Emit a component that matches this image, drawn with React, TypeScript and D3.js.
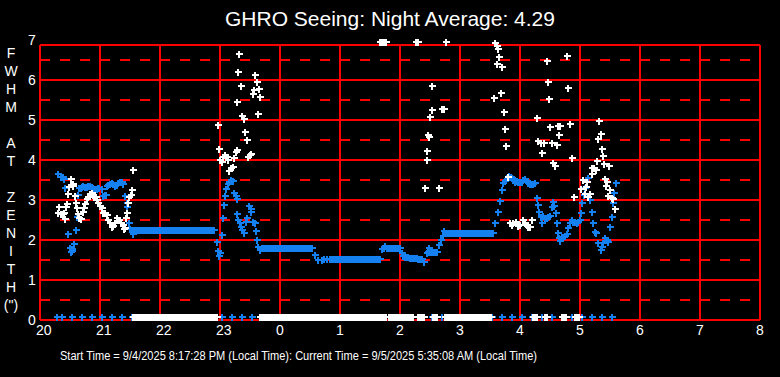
import React, { useEffect } from "react";
import * as d3 from "d3";

// ---- Text ----
const titleText = "GHRO Seeing: Night Average: 4.29";
const footerText =
  "Start Time = 9/4/2025 8:17:28 PM (Local Time): Current Time = 9/5/2025 5:35:08 AM (Local Time)";
const yAxisTitle = ["F", "W", "H", "M", "", "A", "T", "", "Z", "E", "N", "I", "T", "H", "(\")"];

// ---- Axes (x in minutes after 20:00 local time) ----
const hourLabels = ["20", "21", "22", "23", "0", "1", "2", "3", "4", "5", "6", "7", "8"];
const hourTickMinutes = [0, 60, 120, 180, 240, 300, 360, 420, 480, 540, 600, 660, 720];
const yTickValues = [0, 1, 2, 3, 4, 5, 6, 7];
const yHalfValues = [0.5, 1.5, 2.5, 3.5, 4.5, 5.5, 6.5];

// ---- Blue series: [minutes after 20:00, FWHM arcsec] ----
const blueSeries: [number, number][] = [
  [18.3, 3.64], [20.7, 3.58], [22.7, 3.57], [24, 3.52], [25, 3.29], [26.7, 2.9], [28.3, 2.14],
  [30, 1.79], [30.7, 1.69], [31.7, 1.73], [32.3, 1.77], [34.3, 1.9], [35.7, 2.24], [37.3, 2.58],
  [38.3, 3.13], [39.3, 3.31], [40.5, 3.3], [41.7, 3.33], [43.3, 3.35], [45, 3.32], [46.7, 3.33],
  [48.3, 3.36], [50, 3.35], [51.7, 3.33], [53.3, 3.29], [55, 3.26], [56.7, 3.27], [58, 3.3],
  [59.3, 3.3], [61.7, 3.28], [63.3, 3.1], [64.5, 3.12], [65.7, 3.13], [66.7, 3.35], [68.3, 3.38],
  [70, 3.4], [71.7, 3.42], [73.3, 3.4], [75, 3.36], [76.7, 3.38], [78.3, 3.42], [80, 3.46],
  [81.7, 3.44], [83.3, 3.4], [85, 3.1], [86.7, 2.92], [87.3, 2.83], [88.7, 2.42], [90, 2.28],
  [92, 2.24], [93.3, 2.14], [94, 2.24], [96, 2.24], [98, 2.24], [100, 2.24], [102, 2.24],
  [104, 2.24], [106, 2.24], [108, 2.24], [110, 2.24], [112, 2.24], [114, 2.24], [116, 2.24],
  [118, 2.24], [120, 2.24], [122, 2.24], [124, 2.24], [126, 2.24], [128, 2.24], [130, 2.24],
  [132, 2.24], [134, 2.24], [136, 2.24], [138, 2.24], [140, 2.24], [142, 2.24], [144, 2.24],
  [146, 2.24], [148, 2.24], [150, 2.24], [152, 2.24], [154, 2.24], [156, 2.24], [158, 2.24],
  [160, 2.24], [162, 2.24], [164, 2.24], [166, 2.24], [168, 2.24], [170, 2.24], [172, 2.24],
  [174, 2.24],
  [176.7, 1.94], [178.3, 1.73], [179, 1.61], [180, 1.67], [181.7, 2.12], [182.7, 2.54],
  [184.3, 2.87], [185.3, 3.1], [186.3, 3.27], [187.7, 3.39], [189.3, 3.46], [191, 3.5],
  [192.7, 3.48], [194.3, 3.17], [195.7, 3.1], [196.7, 3.03], [197.3, 2.65], [198.3, 2.5],
  [200, 2.42], [201, 2.33], [202.3, 2.25], [204, 2.18], [205.7, 2.45], [207.3, 2.56], [209, 2.85],
  [210.7, 2.77], [211.3, 2.71], [213.3, 2.46], [215, 2.42], [216, 2.22], [216.7, 2.0],
  [218.3, 1.83], [220, 1.75],
  [222, 1.79], [224, 1.79], [226, 1.79], [228, 1.79], [230, 1.79], [232, 1.79], [234, 1.79],
  [236, 1.79], [238, 1.79], [240, 1.79], [242, 1.79], [244, 1.79], [246, 1.79], [248, 1.79],
  [250, 1.79], [252, 1.79], [254, 1.79], [256, 1.79], [258, 1.79], [260, 1.79], [262, 1.79],
  [264, 1.79], [266, 1.79], [268, 1.79], [270, 1.79], [272, 1.79],
  [275, 1.62], [278.3, 1.5], [281.7, 1.5], [284, 1.52], [286.7, 1.52],
  [290, 1.52], [292, 1.52], [294, 1.52], [296, 1.52], [298, 1.52], [300, 1.52], [302, 1.52],
  [304, 1.52], [306, 1.52], [308, 1.52], [310, 1.52], [312, 1.52], [314, 1.52], [316, 1.52],
  [318, 1.52], [320, 1.52], [322, 1.52], [324, 1.52], [326, 1.52], [328, 1.52], [330, 1.52],
  [332, 1.52], [334, 1.52], [336, 1.52], [338, 1.52], [340, 1.52],
  [341.7, 1.77], [343.5, 1.8], [345, 1.85], [346.7, 1.81], [348.3, 1.79], [350, 1.8],
  [351.7, 1.79], [353.5, 1.79], [355, 1.8], [356.7, 1.79], [358.3, 1.79], [360, 1.79],
  [361.7, 1.67], [363.3, 1.61], [365, 1.58], [366.7, 1.57], [368.3, 1.57], [370, 1.55],
  [371.7, 1.54], [373.3, 1.54], [375, 1.55], [376.7, 1.54], [378.3, 1.53], [380, 1.52],
  [381.7, 1.52], [384.3, 1.44], [386.7, 1.67], [388, 1.7], [389.3, 1.79], [390, 1.69],
  [391.7, 1.7], [393.3, 1.71], [395, 1.7], [396.7, 1.71], [399.3, 1.87], [400.7, 2.0],
  [402.7, 2.1], [404.3, 2.23],
  [405, 2.17], [407, 2.17], [409, 2.17], [411, 2.17], [413, 2.17], [415, 2.17], [417, 2.17],
  [419, 2.17], [421, 2.17], [423, 2.17], [425, 2.17], [427, 2.17], [429, 2.17], [431, 2.17],
  [433, 2.17], [435, 2.17], [437, 2.17], [439, 2.17], [441, 2.17], [443, 2.17], [445, 2.17],
  [447, 2.17], [449, 2.17], [451, 2.17], [453, 2.17],
  [455, 2.42], [458.3, 2.71], [460, 2.98], [461.7, 3.25], [463.3, 3.43], [464.7, 3.47], [466, 3.5],
  [467.5, 3.55], [469.3, 3.6], [470.5, 3.57], [471.7, 3.54], [473.3, 3.5], [475, 3.46],
  [476.7, 3.47], [478.3, 3.46], [480, 3.45], [481.7, 3.46], [483.3, 3.5], [485, 3.52],
  [486.7, 3.47], [488.3, 3.43], [490, 3.41], [491.7, 3.4], [493.3, 3.41], [495, 3.42],
  [497.3, 3.04], [498.3, 2.88], [499.3, 2.71], [500.7, 2.58], [501.7, 2.42], [503.3, 2.6],
  [505, 2.56], [506.7, 2.54], [508.3, 2.57], [510, 2.6], [511.7, 2.83], [513.3, 2.94], [514, 2.85],
  [515.7, 2.67], [516.7, 2.42], [517.7, 2.18], [519, 2.04], [520, 1.98], [521.7, 2.08],
  [523.3, 2.07], [525, 2.1], [526.7, 2.15], [528.3, 2.29], [530, 2.42], [531.7, 2.5],
  [533.3, 2.46], [535, 2.45], [536.7, 2.43], [538.3, 2.46], [540, 2.5], [540.7, 2.68],
  [542.3, 2.92], [544, 3.13], [545, 3.29], [546.7, 3.46], [548.3, 3.54], [550, 3.0], [551.7, 2.71],
  [553.3, 2.43], [555, 2.21], [556, 2.17], [558.3, 1.92], [560.7, 1.75], [561.7, 1.83],
  [563.3, 1.92], [565, 2.04], [566.7, 2.0], [568.3, 1.96], [570, 2.33], [571.7, 2.57],
  [572.7, 2.92], [574, 3.17], [575.7, 3.42],
];

// ---- White series: [minutes after 20:00, FWHM arcsec] ----
const whiteSeries: [number, number][] = [
  [18.3, 2.67], [19.3, 2.83], [20.7, 2.65], [22.7, 2.65], [24, 2.67], [25, 2.52], [26, 2.82],
  [27.3, 2.9], [28.3, 3.15], [29.3, 3.33], [30.7, 3.52], [32.7, 3.4], [33.3, 3.35], [35, 3.1],
  [36, 2.93], [37.3, 2.81], [38.3, 2.65], [39.3, 2.54], [40.7, 2.52], [42.7, 2.71], [44, 2.79],
  [45, 2.9], [46.7, 3.02], [48.3, 3.08], [50, 3.15], [51.7, 3.17], [52.7, 3.13], [54, 3.08],
  [56, 3.07], [57.3, 3.0], [58.3, 2.93], [60, 2.85], [61.7, 2.79], [63.3, 2.68], [65, 2.67],
  [66.7, 2.63], [68.3, 2.5], [70, 2.43], [71.7, 2.33], [73.3, 2.35], [75, 2.42], [77.3, 2.54],
  [79.3, 2.5], [80.7, 2.43], [82.7, 2.38], [84, 2.27], [85, 2.29], [86, 2.54], [87.3, 2.67],
  [88.3, 2.92], [89.3, 3.08], [90.7, 3.13], [91.7, 3.25], [93.3, 3.75],
  [178.3, 4.88], [179.3, 4.27], [180, 4.0], [181.7, 3.96], [183.3, 4.08], [185, 4.13],
  [186.7, 4.08], [188.3, 4.0], [189.3, 3.73], [190.7, 3.79], [192.7, 3.83], [194.3, 4.04],
  [195.7, 4.21], [196.7, 4.25], [197.3, 5.46], [198.3, 6.21], [199.3, 6.65], [201.3, 5.85],
  [202.3, 5.1], [204, 5.02], [205.3, 4.7], [206.7, 4.5], [208.3, 4.08], [210, 4.13], [211, 4.15],
  [213.3, 5.65], [214.3, 5.75], [215.3, 6.12], [216.7, 5.96], [218.3, 5.15], [219, 5.77],
  [220, 5.57],
  [340, 6.96], [342, 6.96], [344, 6.96], [346, 6.96], [376, 6.96], [378, 6.96],
  [385.3, 3.29], [386.7, 4.0], [387.3, 4.23], [388.3, 4.63], [389.3, 4.58], [390, 5.07],
  [391.7, 5.25], [392.3, 5.85], [399.3, 3.29], [401.7, 5.27], [404, 5.27], [405.5, 6.96],
  [454.3, 5.54], [455, 6.93], [456.7, 6.85], [457.3, 6.4], [458.3, 6.77], [459.3, 6.58],
  [460.7, 5.67], [462.3, 6.32], [464, 5.19], [465.3, 4.77], [466.3, 4.35], [467.7, 3.58],
  [470, 2.42], [471.7, 2.38], [473.3, 2.42], [475.7, 2.46], [478.3, 2.35], [480, 2.38],
  [482.7, 2.5], [485, 2.43], [486.7, 2.38], [488.3, 2.33], [490, 2.32], [491.7, 2.5],
  [497.3, 5.04], [498.3, 4.48], [500.7, 4.43], [502.3, 4.17], [504, 4.42], [507.3, 6.48],
  [508.3, 5.94], [509.3, 5.52], [510, 4.82], [511.7, 4.43], [512.7, 3.93], [515, 3.85],
  [516.7, 4.37], [518.3, 4.85], [519.3, 4.62], [520, 4.85], [527.3, 6.6], [528.3, 5.79],
  [530, 4.89], [532.3, 4.04], [534.3, 3.07], [541, 3.27], [543.3, 3.5], [545, 3.15], [546, 3.33],
  [547.3, 3.46], [548.3, 3.08], [550, 3.15], [551.7, 3.64], [552.3, 3.79], [554.3, 3.79],
  [556, 3.75], [557.3, 3.97], [558.3, 4.53], [559.3, 4.98], [560.7, 4.65], [561.7, 4.27],
  [562.7, 4.09], [564.3, 3.9], [565.3, 3.53], [566, 3.35], [566.7, 3.46], [568.3, 3.1],
  [569.3, 3.85], [570, 3.25], [571.7, 3.04], [573.3, 3.02], [575, 2.77],
];

// ---- Readings logged at zero (bottom row), minutes after 20:00 ----
const blueZeroTimes: number[] = [
  17, 22, 32, 42, 52, 62, 72, 82, 92, 102, 112, 122, 132, 142, 152, 162, 172, 182, 192, 202, 212,
  222, 232, 242, 252, 262, 272, 282, 292, 302, 312, 322, 332, 342, 352, 362, 372, 382, 392, 402,
  412, 422, 432, 442, 452, 462, 472, 482, 492, 502, 512, 522, 532, 542, 552, 562, 572,
];
const whiteZeroTimes: number[] = [
  93, 95, 97, 99, 101, 103, 105, 107, 109, 111, 113, 115, 117, 119, 121, 123, 125, 127, 129, 131,
  133, 135, 137, 139, 141, 143, 145, 147, 149, 151, 153, 155, 157, 159, 161, 163, 165, 167, 169,
  171, 173, 175, 177,
  220, 222, 224, 226, 228, 230, 232, 234, 236, 238, 240, 242, 244, 246, 248, 250, 252, 254, 256,
  258, 260, 262, 264, 266, 268, 270, 272, 274, 276, 278, 280, 282, 284, 286, 288, 290, 292, 294,
  296, 298, 300, 302, 304, 306, 308, 310, 312, 314, 316, 318, 320, 322, 324, 326, 328, 330, 332,
  334, 336, 338, 340, 342, 344, 346,
  349, 351, 353, 355, 357, 359, 361, 363, 365, 367, 369, 371, 373,
  378, 380, 382, 384, 393, 395, 397,
  405, 407, 409, 411, 413, 415, 417, 419, 421, 423, 425, 427, 429, 431, 433, 435, 437, 439, 441,
  443, 445, 447, 449, 451,
  493, 495, 497, 505, 507, 522, 524, 526, 535, 537, 539,
];
const zeroLevel = 0.08;

const BLUE = "#1580ef";
const RED = "#ff0000";

export default function App() {
  useEffect(() => {
    document.body.style.margin = "0";
    document.body.style.background = "#000";
  }, []);

  const W = 780;
  const H = 377;
  const plotTop = 45;
  const x = d3.scaleLinear().domain([0, 720]).range([40, 760]);
  const y = d3.scaleLinear().domain([0, 7]).range([320, 40]);

  const plus = (cx: number, cy: number) => {
    const px = Math.round(cx);
    const py = Math.round(cy);
    return `M${px - 3.5},${py}h7M${px},${py - 3.5}v7`;
  };
  const bluePath =
    blueSeries.map(([t, v]) => plus(x(t), y(v))).join("") +
    blueZeroTimes.map((t) => plus(x(t), y(zeroLevel))).join("");
  const whitePath =
    whiteSeries.map(([t, v]) => plus(x(t), y(v))).join("") +
    whiteZeroTimes.map((t) => plus(x(t), y(zeroLevel))).join("");

  const font = "'Liberation Sans', Arial, sans-serif";

  return (
    <svg
      width={W}
      height={H}
      style={{ position: "absolute", left: 0, top: 0, display: "block", background: "#000" }}
    >
      <rect x={0} y={0} width={W} height={H} fill="#000" />
      {/* dashed half-unit grid */}
      {yHalfValues.map((v) => (
        <line key={"h" + v} x1={40} x2={760} y1={y(v)} y2={y(v)} stroke={RED} strokeWidth={2}
          strokeDasharray="10,10" shapeRendering="crispEdges" />
      ))}
      {/* solid grid */}
      {yTickValues.filter((v) => v > 0 && v < 7).map((v) => (
        <line key={"s" + v} x1={40} x2={760} y1={y(v)} y2={y(v)} stroke={RED} strokeWidth={2}
          shapeRendering="crispEdges" />
      ))}
      {hourTickMinutes.map((t) => (
        <line key={"v" + t} x1={x(t)} x2={x(t)} y1={plotTop} y2={y(0)} stroke={RED} strokeWidth={2}
          shapeRendering="crispEdges" />
      ))}
      <line x1={40} x2={760} y1={plotTop} y2={plotTop} stroke={RED} strokeWidth={2} shapeRendering="crispEdges" />
      <line x1={40} x2={760} y1={y(0)} y2={y(0)} stroke={RED} strokeWidth={2} shapeRendering="crispEdges" />

      {/* data */}
      <path d={bluePath} stroke={BLUE} strokeWidth={2} fill="none" shapeRendering="crispEdges" />
      <path d={whitePath} stroke="#fff" strokeWidth={2} fill="none" shapeRendering="crispEdges" />

      {/* y tick labels */}
      {yTickValues.map((v) => (
        <text key={"yl" + v} x={28} y={y(v) + 5} fill="#fff" fontFamily={font} fontSize={14}>
          {v}
        </text>
      ))}
      {/* x tick labels */}
      {hourTickMinutes.map((t, i) => (
        <text key={"xl" + t} x={x(t) - 4} y={335} fill="#fff" fontFamily={font} fontSize={14}>
          {hourLabels[i]}
        </text>
      ))}
      {/* y axis title, one character per line */}
      {yAxisTitle.map((c, i) => (
        <text key={"yt" + i} x={11} y={53 + i * 18 + 5} fill="#fff" fontFamily={font} fontSize={14}
          textAnchor="middle">
          {c}
        </text>
      ))}
      <text x={390} y={26} fill="#fff" fontFamily={font} fontSize={21} textAnchor="middle">
        {titleText}
      </text>
      <text x={60} y={360} fill="#fff" fontFamily={font} fontSize={12.5} textLength={477}
        lengthAdjust="spacingAndGlyphs">
        {footerText}
      </text>
    </svg>
  );
}
